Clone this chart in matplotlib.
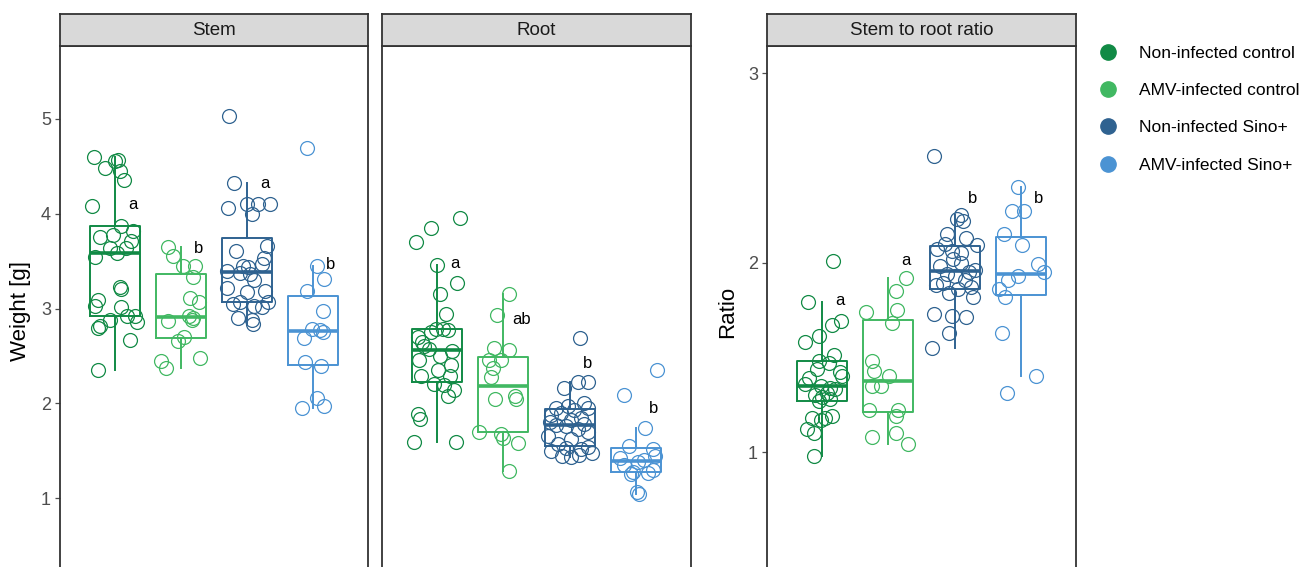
import matplotlib
matplotlib.use('Agg')
import matplotlib.pyplot as plt
from matplotlib.lines import Line2D

plt.rcParams['font.family'] = ['Liberation Sans', 'DejaVu Sans']

groups = ['Non-infected control', 'AMV-infected control', 'Non-infected Sino+', 'AMV-infected Sino+']
colors = ['#118a45', '#41b862', '#2f6290', '#4b93d3']

# stem weight [g]
stem = [
    [4.60, 4.56, 4.57, 4.48, 4.45, 4.36, 4.08, 3.76, 3.78, 3.87, 3.82, 3.71, 3.64, 3.64, 3.54,
     3.59, 3.23, 3.21, 3.09, 3.03, 3.02, 2.92, 2.92, 2.86, 2.88, 2.82, 2.80, 2.67, 2.35],
    [2.37, 2.45, 2.48, 2.66, 2.70, 2.87, 2.88, 2.90, 2.92, 3.07, 3.11, 3.33, 3.45, 3.45, 3.55, 3.65],
    [5.03, 4.33, 4.10, 4.10, 4.10, 4.06, 4.00, 3.66, 3.61, 3.53, 3.47, 3.45, 3.44, 3.40, 3.38,
     3.36, 3.30, 3.22, 3.19, 3.17, 3.07, 3.07, 3.05, 3.03, 3.02, 2.90, 2.88, 2.84],
    [4.69, 3.45, 3.31, 3.19, 2.97, 2.79, 2.77, 2.75, 2.69, 2.44, 2.39, 2.06, 1.95, 1.97],
]
stem_jit = [
    [-0.31, 0.00, 0.04, -0.15, 0.08, 0.14, -0.34, -0.23, -0.03, 0.10, 0.28, 0.24, -0.08, 0.17, -0.30,
     0.03, 0.08, 0.10, -0.25, -0.30, 0.10, 0.18, 0.30, 0.33, -0.08, -0.23, -0.25, 0.23, -0.26],
    [-0.23, -0.30, 0.29, -0.04, 0.05, -0.19, 0.16, 0.18, 0.12, 0.27, 0.13, 0.18, 0.03, 0.21, -0.12, -0.19],
    [-0.28, -0.19, 0.00, 0.17, 0.35, -0.29, 0.07, 0.30, -0.16, 0.25, 0.22, -0.06, 0.02, -0.31, -0.11,
     0.05, 0.10, -0.31, 0.27, 0.00, -0.11, 0.32, -0.21, 0.10, 0.22, -0.13, 0.07, 0.09],
    [-0.10, 0.06, 0.16, -0.10, 0.15, -0.02, 0.10, 0.15, -0.14, -0.12, 0.12, 0.06, -0.17, 0.16],
]

# root weight [g]
root = [
    [1.59, 1.59, 1.84, 1.89, 2.08, 2.14, 2.19, 2.20, 2.29, 2.29, 2.35, 2.40, 2.46, 2.50, 2.55,
     2.57, 2.61, 2.65, 2.70, 2.75, 2.77, 2.78, 2.79, 2.94, 3.15, 3.27, 3.46, 3.70, 3.85, 3.96],
    [3.15, 2.93, 2.58, 2.56, 2.46, 2.46, 2.37, 2.28, 2.05, 2.08, 2.05, 1.70, 1.68, 1.64, 1.58, 1.29],
    [1.43, 1.45, 1.46, 1.48, 1.50, 1.52, 1.53, 1.54, 1.57, 1.62, 1.66, 1.70, 1.73, 1.76, 1.77,
     1.78, 1.80, 1.82, 1.85, 1.88, 1.90, 1.93, 1.95, 1.95, 1.97, 2.00, 2.16, 2.23, 2.23, 2.69],
    [1.04, 1.07, 1.25, 1.27, 1.28, 1.30, 1.35, 1.38, 1.40, 1.42, 1.45, 1.52, 1.55, 1.74, 2.09, 2.35],
]
root_jit = [
    [-0.34, 0.28, -0.25, -0.29, 0.16, 0.26, 0.11, -0.05, -0.24, 0.19, 0.01, 0.21, -0.27, 0.05, 0.23,
     -0.12, -0.19, -0.22, -0.29, -0.09, 0.16, -0.02, 0.09, 0.14, 0.05, 0.30, 0.00, -0.32, -0.09, 0.34],
    [0.09, -0.09, -0.14, 0.09, -0.21, -0.04, -0.16, -0.19, -0.13, 0.17, 0.19, -0.36, -0.04, -0.01, 0.22, 0.08],
    [0.02, -0.11, 0.14, 0.33, -0.28, 0.17, -0.06, 0.27, -0.18, 0.02, -0.33, 0.27, 0.12, -0.06, -0.21,
     0.22, -0.30, 0.02, 0.17, -0.28, -0.13, 0.07, 0.27, -0.21, -0.03, 0.22, -0.08, 0.12, 0.27, 0.16],
    [0.05, 0.02, -0.08, 0.18, -0.04, 0.25, -0.18, 0.03, 0.12, -0.24, 0.28, 0.25, -0.10, 0.14, -0.18, 0.32],
]

# stem to root ratio
ratio = [
    [0.98, 1.10, 1.12, 1.17, 1.18, 1.18, 1.19, 1.27, 1.28, 1.29, 1.30, 1.31, 1.33, 1.34, 1.35,
     1.36, 1.39, 1.40, 1.42, 1.44, 1.47, 1.48, 1.51, 1.58, 1.61, 1.67, 1.69, 1.79, 2.01],
    [1.04, 1.08, 1.10, 1.19, 1.22, 1.22, 1.35, 1.35, 1.40, 1.43, 1.48, 1.68, 1.74, 1.75, 1.85, 1.92],
    [1.55, 1.63, 1.71, 1.72, 1.73, 1.82, 1.84, 1.86, 1.87, 1.88, 1.89, 1.91, 1.93, 1.94, 1.95,
     1.96, 1.98, 2.00, 2.02, 2.05, 2.06, 2.07, 2.09, 2.10, 2.13, 2.15, 2.22, 2.23, 2.25, 2.56],
    [1.31, 1.40, 1.63, 1.82, 1.86, 1.91, 1.93, 1.95, 1.99, 2.09, 2.15, 2.27, 2.27, 2.40],
]
ratio_jit = [
    [-0.12, -0.12, -0.22, -0.02, 0.05, -0.15, 0.15, -0.05, 0.12, 0.00, -0.10, 0.08, 0.20, 0.12, -0.02,
     -0.25, -0.20, 0.30, 0.27, -0.07, 0.10, -0.05, 0.18, -0.26, -0.05, 0.15, 0.28, -0.21, 0.16],
    [0.29, -0.25, 0.12, 0.12, -0.29, 0.14, -0.11, -0.24, 0.01, -0.21, -0.25, 0.05, -0.34, 0.13, 0.12, 0.26],
    [-0.34, -0.09, 0.17, -0.04, -0.31, 0.28, -0.08, 0.05, 0.25, -0.28, -0.18, 0.15, 0.00, -0.12, 0.22,
     0.30, -0.22, 0.10, -0.02, 0.09, -0.04, -0.26, 0.34, -0.15, 0.17, -0.11, 0.12, 0.04, 0.09, -0.31],
    [-0.21, 0.23, -0.29, -0.24, -0.33, -0.19, -0.04, 0.34, 0.26, 0.01, -0.26, -0.14, 0.04, -0.05],
]

# significance letters and their heights
stem_letters = ['a', 'b', 'a', 'b']
stem_letter_y = [4.10, 3.63, 4.32, 3.47]
root_letters = ['a', 'ab', 'b', 'b']
root_letter_y = [3.48, 2.88, 2.42, 1.95]
ratio_letters = ['a', 'a', 'b', 'b']
ratio_letter_y = [1.80, 2.01, 2.34, 2.34]

W, H = 1312, 567
fig = plt.figure(figsize=(W / 100, H / 100), dpi=100)

edge = '#333333'
px_per_unit = {'Stem': 94.8, 'Root': 94.8, 'Stem to root ratio': 189.5}


def panel(px_left, px_width, ylim, title, data, jit, letters, letter_y):
    top = 46
    # axes run on a little below the bottom edge of the picture, as in the original crop
    bottom = top + (ylim[1] - ylim[0]) * px_per_unit[title]
    ax = fig.add_axes([px_left / W, 1 - bottom / H, px_width / W, (bottom - top) / H])
    ax.set_ylim(*ylim)
    ax.set_xlim(0.17, 4.83)
    for i, (vals, offs) in enumerate(zip(data, jit)):
        c = colors[i]
        ax.boxplot([vals], positions=[i + 1], widths=0.75, showfliers=False, showcaps=False,
                   boxprops=dict(color=c, linewidth=1.4),
                   whiskerprops=dict(color=c, linewidth=1.4),
                   medianprops=dict(color=c, linewidth=2.6),
                   manage_ticks=False)
        ax.plot([i + 1 + o for o in offs], vals, 'o', mfc='none', mec=c, ms=10, mew=0.9, zorder=3)
        ax.text(i + 1.27, letter_y[i], letters[i], ha='center', va='center', fontsize=12, color='black')
    ax.set_xticks([])
    for s in ax.spines.values():
        s.set_color(edge)
        s.set_linewidth(1.3)
    ax.tick_params(axis='y', colors='#4d4d4d', labelsize=13, length=3.5, width=0.9, pad=3)
    # facet strip
    sax = fig.add_axes([px_left / W, 1 - top / H, px_width / W, 32 / H])
    sax.set_facecolor('#d9d9d9')
    sax.set_xticks([])
    sax.set_yticks([])
    for s in sax.spines.values():
        s.set_color(edge)
        s.set_linewidth(1.3)
    sax.text(0.5, 0.47, title, ha='center', va='center', fontsize=13.5, color='#1a1a1a',
             transform=sax.transAxes)
    return ax


ax1 = panel(60, 308, (0.18, 5.77), 'Stem', stem, stem_jit, stem_letters, stem_letter_y)
ax1.set_yticks([1, 2, 3, 4, 5])
ax1.set_ylabel('Weight [g]', fontsize=16, labelpad=7)

ax2 = panel(382, 309, (0.18, 5.77), 'Root', root, root_jit, root_letters, root_letter_y)
ax2.set_yticks([])

ax3 = panel(767, 309, (0.335, 3.1425), 'Stem to root ratio', ratio, ratio_jit, ratio_letters, ratio_letter_y)
ax3.set_yticks([1, 2, 3])
ax3.set_ylabel('Ratio', fontsize=16, labelpad=7)

handles = [Line2D([], [], marker='o', linestyle='none', color=c, ms=11) for c in colors]
fig.legend(handles, groups, loc='upper left', bbox_to_anchor=(1087 / W, 1 - 39 / H), frameon=False,
           fontsize=12.5, handletextpad=1.0, labelspacing=1.27, borderaxespad=0, handlelength=1.6)

fig.savefig('out.png', dpi=100)
